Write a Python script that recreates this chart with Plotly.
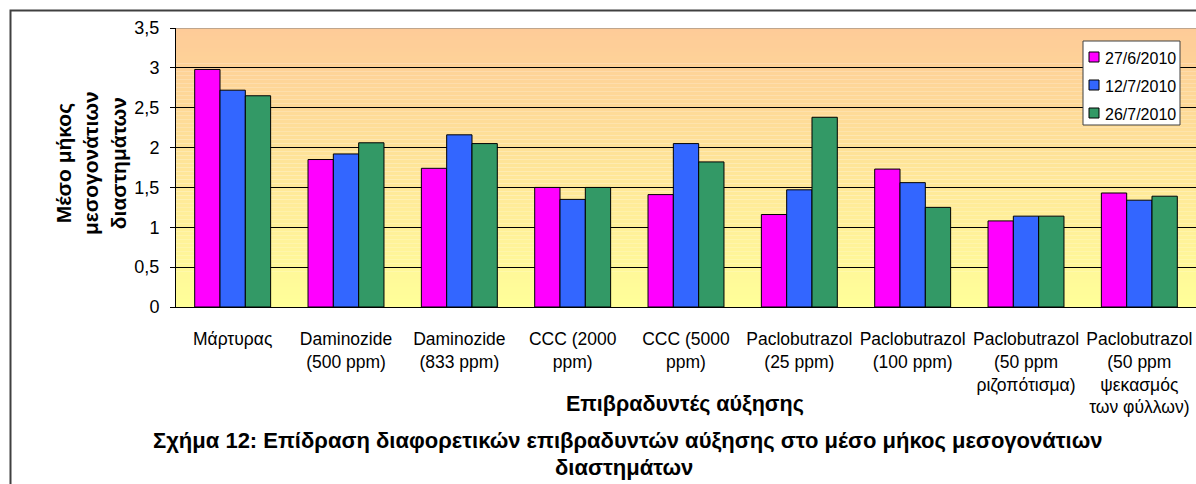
import plotly.graph_objects as go

# Treatments (category axis labels)
categories = [
    "Μάρτυρας",
    "Daminozide<br>(500 ppm)",
    "Daminozide<br>(833 ppm)",
    "CCC (2000<br>ppm)",
    "CCC (5000<br>ppm)",
    "Paclobutrazol<br>(25 ppm)",
    "Paclobutrazol<br>(100 ppm)",
    "Paclobutrazol<br>(50 ppm<br>ριζοπότισμα)",
    "Paclobutrazol<br>(50 ppm<br>ψεκασμός<br>των φύλλων)",
]

# Mean internode length per sampling date
series_names = ["27/6/2010", "12/7/2010", "26/7/2010"]
vals_27_6 = [2.98, 1.85, 1.74, 1.50, 1.41, 1.16, 1.73, 1.08, 1.43]
vals_12_7 = [2.72, 1.92, 2.16, 1.35, 2.05, 1.47, 1.56, 1.14, 1.34]
vals_26_7 = [2.65, 2.06, 2.05, 1.50, 1.82, 2.38, 1.25, 1.14, 1.39]

y_ticks = [0, 0.5, 1, 1.5, 2, 2.5, 3, 3.5]

colors = ["#FF00FF", "#3366FF", "#339966"]
FONT = "Liberation Sans, Arial, sans-serif"

W, H = 1196, 484
L, R, T, B = 176, 0, 28, 177
PW, PH = W - L - R, H - T - B


def px_x(px):
    return (px - L) / PW


def px_y(py):
    return 1 - (py - T) / PH


fig = go.Figure()
for name, vals, col in zip(series_names, [vals_27_6, vals_12_7, vals_26_7], colors):
    fig.add_trace(go.Bar(
        x=categories, y=vals, name=name,
        marker=dict(color=col, line=dict(color="#000000", width=1)),
    ))

# vertical gradient behind the plot area (tan at top, pale yellow at bottom)
shapes = []
n = 70
top_rgb = (254, 203, 152)
bot_rgb = (255, 255, 153)
ymax = y_ticks[-1]
for i in range(n):
    f = (i + 0.5) / n
    c = tuple(round(b + (t - b) * f) for b, t in zip(bot_rgb, top_rgb))
    shapes.append(dict(
        type="rect", xref="paper", yref="y", layer="below",
        x0=0, x1=1, y0=ymax * i / n, y1=ymax * (i + 1) / n,
        fillcolor="rgb(%d,%d,%d)" % c, line=dict(width=0),
    ))

# grey top edge of the plot area
shapes.append(dict(
    type="line", xref="paper", yref="y", layer="above",
    x0=0, x1=1, y0=ymax, y1=ymax, line=dict(color="#808080", width=1),
))

# outer frame of the figure
shapes.append(dict(
    type="rect", xref="paper", yref="paper", layer="above",
    x0=px_x(10.5), x1=px_x(W + 20), y0=px_y(H + 20), y1=px_y(10.5),
    line=dict(color="#404040", width=2), fillcolor="rgba(0,0,0,0)",
))

title_common = dict(xref="paper", yref="paper", showarrow=False,
                    xanchor="center", yanchor="middle")
annotations = [
    dict(text="<b>Μέσο μήκος<br>μεσογονάτιων<br>διαστημάτων</b>",
         x=px_x(91), y=px_y(163), textangle=-90, align="center",
         font=dict(family=FONT, size=21, color="#000"), **title_common),
    dict(text="<b>Επιβραδυντές αύξησης</b>",
         x=px_x(685), y=px_y(404),
         font=dict(family=FONT, size=21.5, color="#000"), **title_common),
    dict(text="<b>Σχήμα 12: Επίδραση διαφορετικών επιβραδυντών αύξησης στο μέσο μήκος μεσογονάτιων</b>",
         x=px_x(628), y=px_y(440),
         font=dict(family=FONT, size=22, color="#000"), **title_common),
    dict(text="<b>διαστημάτων</b>",
         x=px_x(624), y=px_y(467),
         font=dict(family=FONT, size=22, color="#000"), **title_common),
]

# legend box drawn in the upper right of the plot area
lg_left, lg_right, lg_top, lg_bottom = 1083, 1180, 41, 125
shapes.append(dict(
    type="rect", xref="paper", yref="paper", layer="above",
    x0=px_x(lg_left), x1=px_x(lg_right), y0=px_y(lg_bottom), y1=px_y(lg_top),
    line=dict(color="#404040", width=1), fillcolor="#FFFFFF",
))
row_y = [57, 85, 113]
for name, col, ry in zip(series_names, colors, row_y):
    shapes.append(dict(
        type="rect", xref="paper", yref="paper", layer="above",
        x0=px_x(1089), x1=px_x(1099), y0=px_y(ry + 5), y1=px_y(ry - 5),
        line=dict(color="#000", width=1), fillcolor=col,
    ))
    annotations.append(dict(
        text=name, xref="paper", yref="paper", x=px_x(1103), y=px_y(ry + 1),
        xanchor="left", yanchor="middle", showarrow=False,
        font=dict(family=FONT, size=16, color="#000"),
    ))

fig.update_layout(
    width=W, height=H,
    margin=dict(l=L, r=R, t=T, b=B, pad=0),
    paper_bgcolor="#FFFFFF", plot_bgcolor="#FFFFFF",
    separators=", ",
    barmode="group", bargap=0.33, bargroupgap=0,
    font=dict(family=FONT, size=17, color="#000"),
    showlegend=False,
    shapes=shapes,
    annotations=annotations,
    xaxis=dict(
        type="category", showline=True, linecolor="#000", linewidth=1,
        ticks="", showgrid=False, tickangle=0,
        tickfont=dict(family=FONT, size=17.5, color="#000"),
        ticklabelstandoff=16,
    ),
    yaxis=dict(
        range=[0, ymax], tickvals=y_ticks, ticks="outside", ticklen=5,
        tickcolor="#000", showline=True, linecolor="#000", linewidth=1,
        showgrid=True, gridcolor="#000", gridwidth=1, zeroline=False,
        tickfont=dict(family=FONT, size=18, color="#000"),
        ticklabelstandoff=7,
    ),
)

fig.write_html("out.html")
